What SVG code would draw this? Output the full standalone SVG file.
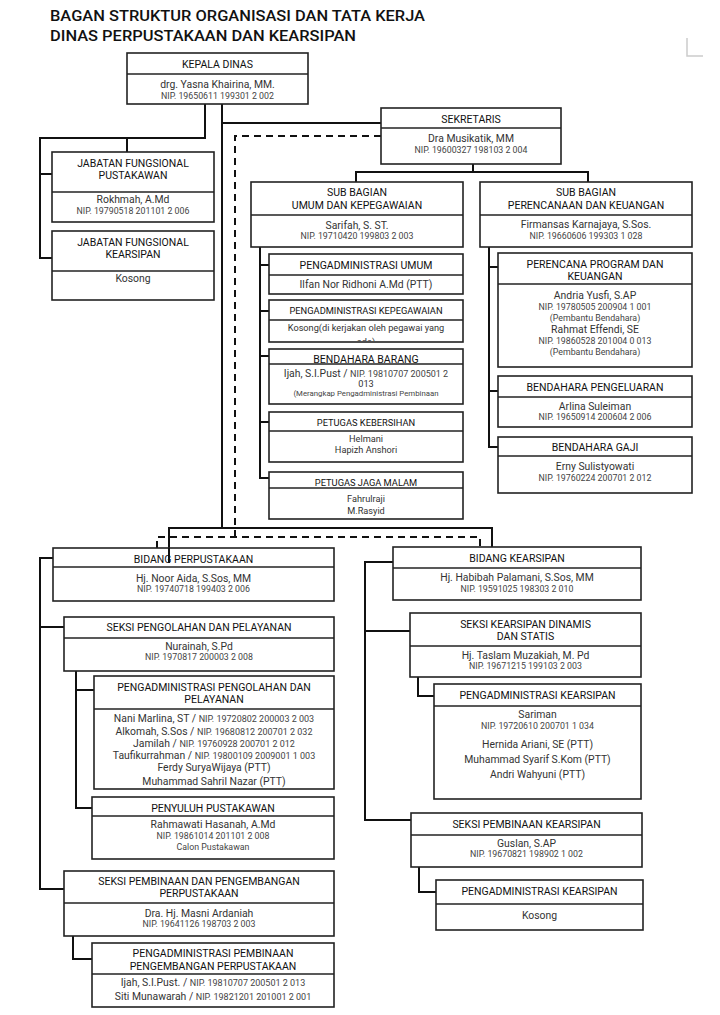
<svg xmlns="http://www.w3.org/2000/svg" width="720" height="1015" viewBox="0 0 720 1015">
<style>
text{font-family:Roboto,"Liberation Sans",sans-serif;text-anchor:middle}
.t{font-size:10.5px;fill:#111}
.ts{font-size:9.3px;fill:#111}
.n{font-size:10.4px;fill:#333}
.ns{font-size:9.2px;fill:#333}
.p{font-size:8.8px;fill:#444}
.s{font-size:7.8px;fill:#444}
.b{fill:#fff;stroke:#222;stroke-width:1.6}
.dv{stroke:#222;stroke-width:1.3}
.c{fill:none;stroke:#111;stroke-width:2}
.d{fill:none;stroke:#111;stroke-width:2;stroke-dasharray:7 5}
.ttl{font-family:Roboto,"Liberation Sans",sans-serif;font-size:15.5px;font-weight:500;fill:#111;text-anchor:start}
</style>
<defs>
<clipPath id="clipKep"><rect x="269" y="320" width="194" height="21"/></clipPath>
</defs>
<rect width="720" height="1015" fill="#fff"/>
<text class="ttl" x="50" y="21" textLength="375" lengthAdjust="spacingAndGlyphs">BAGAN STRUKTUR ORGANISASI DAN TATA KERJA</text>
<text class="ttl" x="50" y="41" textLength="306" lengthAdjust="spacingAndGlyphs">DINAS PERPUSTAKAAN DAN KEARSIPAN</text>
<path d="M687,38 V56 H703" fill="none" stroke="#ccc" stroke-width="1.5"/>

<g id="connectors">
<path class="c" d="M205,104 V138 H40 V258 H52"/>
<path class="c" d="M40,174 H52"/>
<path class="c" d="M127,138 V152"/>
<path class="c" d="M222,104 V528"/>
<path class="c" d="M222,123 H381"/>
<path class="c" d="M473,164 V172"/>
<path class="c" d="M356,182 V172 H588 V182"/>
<path class="c" d="M260,247 V478 H269"/>
<path class="c" d="M260,265 H269 M260,311 H269 M260,356 H269 M260,422 H269"/>
<path class="c" d="M489,247 V447 H498 M489,267 H498 M489,391 H498"/>
<path class="c" d="M169,563 V528 H492 V547"/>
<path class="c" d="M53,558 H40 V889 H64 M40,627 H64"/>
<path class="c" d="M76,671 V808 H92 M76,690 H94"/>
<path class="c" d="M73,936 V959 H92"/>
<path class="c" d="M393,562 H365 V820 H411 M365,631 H410"/>
<path class="c" d="M418,677 V696 H434"/>
<path class="c" d="M419,867 V892 H436"/>
<path class="d" d="M381,136 H235 V537"/>
<path class="d" d="M157,548 V537 H480 V547"/>
</g>

<g id="kepala-dinas">
<rect class="b" x="127" y="53" width="181" height="51"/>
<line class="dv" x1="127" y1="74" x2="308" y2="74"/>
<text class="t" x="217.5" y="67.5">KEPALA DINAS</text>
<text class="n" x="217.5" y="87.5">drg. Yasna Khairina, MM.</text>
<text class="p" x="217.5" y="99">NIP. 19650611 199301 2 002</text>
</g>

<g id="sekretaris">
<rect class="b" x="381" y="108" width="180" height="56"/>
<line class="dv" x1="381" y1="128" x2="561" y2="128"/>
<text class="t" x="471" y="122.5">SEKRETARIS</text>
<text class="n" x="471" y="141.5">Dra Musikatik, MM</text>
<text class="p" x="471" y="153">NIP. 19600327 198103 2 004</text>
</g>

<g id="jf-pustakawan">
<rect class="b" x="52" y="152" width="162" height="70"/>
<line class="dv" x1="52" y1="192" x2="214" y2="192"/>
<text class="t" x="133" y="166.5">JABATAN FUNGSIONAL</text>
<text class="t" x="133" y="178.5">PUSTAKAWAN</text>
<text class="n" x="133" y="202.5">Rokhmah, A.Md</text>
<text class="p" x="133" y="214">NIP. 19790518 201101 2 006</text>
</g>

<g id="jf-kearsipan">
<rect class="b" x="52" y="231" width="162" height="69"/>
<line class="dv" x1="52" y1="271" x2="214" y2="271"/>
<text class="t" x="133" y="245.5">JABATAN FUNGSIONAL</text>
<text class="t" x="133" y="257.5">KEARSIPAN</text>
<text class="n" x="133" y="281.5">Kosong</text>
</g>

<g id="subbag-umum">
<rect class="b" x="251" y="182" width="212" height="65"/>
<line class="dv" x1="251" y1="215" x2="463" y2="215"/>
<text class="t" x="357" y="195.5">SUB BAGIAN</text>
<text class="t" x="357" y="208.5">UMUM DAN KEPEGAWAIAN</text>
<text class="n" x="357" y="228.5">Sarifah, S. ST.</text>
<text class="p" x="357" y="239">NIP. 19710420 199803 2 003</text>
</g>

<g id="peng-umum">
<rect class="b" x="269" y="254" width="194" height="40"/>
<line class="dv" x1="269" y1="275" x2="463" y2="275"/>
<text class="t" x="366" y="268.5">PENGADMINISTRASI UMUM</text>
<text class="n" x="366" y="287.5">Ilfan Nor Ridhoni A.Md (PTT)</text>
</g>

<g id="peng-kepegawaian">
<rect class="b" x="269" y="300" width="194" height="42"/>
<line class="dv" x1="269" y1="320" x2="463" y2="320"/>
<text class="ts" x="366" y="314">PENGADMINISTRASI KEPEGAWAIAN</text>
<g clip-path="url(#clipKep)">
<text class="ns" x="366" y="331">Kosong(di kerjakan oleh pegawai yang</text>
<text class="ns" x="366" y="345">ada)</text>
</g>
</g>

<g id="bendahara-barang">
<rect class="b" x="269" y="349" width="194" height="55"/>
<text class="t" x="366" y="363">BENDAHARA BARANG</text>
<line class="dv" x1="269" y1="364" x2="463" y2="364"/>
<text class="n" x="366" y="376.5">Ijah, S.I.Pust / <tspan class="p" style="font-size:9px">NIP. 19810707 200501 2</tspan></text>
<text class="ns" x="366" y="386.5">013</text>
<text class="s" x="366" y="395.5">(Merangkap Pengadministrasi Pembinaan</text>
</g>

<g id="petugas-kebersihan">
<rect class="b" x="269" y="412" width="194" height="50"/>
<line class="dv" x1="269" y1="431" x2="463" y2="431"/>
<text class="ts" x="366" y="425.5">PETUGAS KEBERSIHAN</text>
<text class="ns" x="366" y="442">Helmani</text>
<text class="ns" x="366" y="453">Hapizh Anshori</text>
</g>

<g id="petugas-jaga-malam">
<rect class="b" x="269" y="472" width="194" height="47"/>
<line class="dv" x1="269" y1="488" x2="463" y2="488"/>
<text class="ts" x="366" y="485.5">PETUGAS JAGA MALAM</text>
<text class="ns" x="366" y="502">Fahrulraji</text>
<text class="ns" x="366" y="514">M.Rasyid</text>
</g>

<g id="subbag-perencanaan">
<rect class="b" x="480" y="182" width="212" height="65"/>
<line class="dv" x1="480" y1="215" x2="692" y2="215"/>
<text class="t" x="586" y="195.5">SUB BAGIAN</text>
<text class="t" x="586" y="208.5">PERENCANAAN DAN KEUANGAN</text>
<text class="n" x="586" y="227.5">Firmansas Karnajaya, S.Sos.</text>
<text class="p" x="586" y="239">NIP. 19660606 199303 1 028</text>
</g>

<g id="perencana-program">
<rect class="b" x="498" y="253" width="194" height="114"/>
<line class="dv" x1="498" y1="284" x2="692" y2="284"/>
<text class="t" x="595" y="267.5">PERENCANA PROGRAM DAN</text>
<text class="t" x="595" y="279.5">KEUANGAN</text>
<text class="n" x="595" y="298.5">Andria Yusfi, S.AP</text>
<text class="p" x="595" y="310">NIP. 19780505 200904 1 001</text>
<text class="p" x="595" y="321">(Pembantu Bendahara)</text>
<text class="n" x="595" y="332.5">Rahmat Effendi, SE</text>
<text class="p" x="595" y="344">NIP. 19860528 201004 0 013</text>
<text class="p" x="595" y="355">(Pembantu Bendahara)</text>
</g>

<g id="bendahara-pengeluaran">
<rect class="b" x="498" y="376" width="194" height="51"/>
<line class="dv" x1="498" y1="397" x2="692" y2="397"/>
<text class="t" x="595" y="390.5">BENDAHARA PENGELUARAN</text>
<text class="n" x="595" y="409.5">Arlina Suleiman</text>
<text class="p" x="595" y="420">NIP. 19650914 200604 2 006</text>
</g>

<g id="bendahara-gaji">
<rect class="b" x="498" y="437" width="194" height="56"/>
<line class="dv" x1="498" y1="456" x2="692" y2="456"/>
<text class="t" x="595" y="450.5">BENDAHARA GAJI</text>
<text class="n" x="595" y="469.5">Erny Sulistyowati</text>
<text class="p" x="595" y="481">NIP. 19760224 200701 2 012</text>
</g>

<g id="bidang-perpustakaan">
<rect class="b" x="53" y="548" width="281" height="53"/>
<line class="dv" x1="53" y1="567" x2="334" y2="567"/>
<text class="t" x="193.5" y="562.5">BIDANG PERPUSTAKAAN</text>
<line x1="169" y1="548" x2="169" y2="563" stroke="#111" stroke-width="2"/>
<text class="n" x="193.5" y="581.5">Hj. Noor Aida, S.Sos, MM</text>
<text class="p" x="193.5" y="592">NIP. 19740718 199403 2 006</text>
</g>

<g id="seksi-pengolahan">
<rect class="b" x="64" y="617" width="270" height="54"/>
<line class="dv" x1="64" y1="638" x2="334" y2="638"/>
<text class="t" x="199" y="630.5">SEKSI PENGOLAHAN DAN PELAYANAN</text>
<text class="n" x="199" y="649.5">Nurainah, S.Pd</text>
<text class="p" x="199" y="660">NIP. 1970817 200003 2 008</text>
</g>

<g id="peng-pengolahan">
<rect class="b" x="94" y="676" width="240" height="113"/>
<line class="dv" x1="94" y1="709" x2="334" y2="709"/>
<text class="t" x="214" y="690.5">PENGADMINISTRASI PENGOLAHAN DAN</text>
<text class="t" x="214" y="702.5">PELAYANAN</text>
<text class="n" x="214" y="721.5">Nani Marlina, ST / <tspan class="p" style="font-size:9px">NIP. 19720802 200003 2 003</tspan></text>
<text class="n" x="214" y="734.5">Alkomah, S.Sos / <tspan class="p" style="font-size:9px">NIP. 19680812 200701 2 032</tspan></text>
<text class="n" x="214" y="746.5">Jamilah / <tspan class="p" style="font-size:9px">NIP. 19760928 200701 2 012</tspan></text>
<text class="n" x="214" y="758.5">Taufikurrahman / <tspan class="p" style="font-size:9px">NIP. 19800109 2009001 1 003</tspan></text>
<text class="n" x="214" y="770.5">Ferdy SuryaWijaya (PTT)</text>
<text class="n" x="214" y="784.5">Muhammad Sahril Nazar (PTT)</text>
</g>

<g id="penyuluh">
<rect class="b" x="92" y="797" width="242" height="62"/>
<line class="dv" x1="92" y1="816" x2="334" y2="816"/>
<text class="t" x="213" y="811.5">PENYULUH PUSTAKAWAN</text>
<text class="n" x="213" y="827.5">Rahmawati Hasanah, A.Md</text>
<text class="p" x="213" y="839">NIP. 19861014 201101 2 008</text>
<text class="p" x="213" y="850">Calon Pustakawan</text>
</g>

<g id="seksi-pembinaan-perpus">
<rect class="b" x="64" y="871" width="270" height="65"/>
<line class="dv" x1="64" y1="903" x2="334" y2="903"/>
<text class="t" x="199" y="884.5">SEKSI PEMBINAAN DAN PENGEMBANGAN</text>
<text class="t" x="199" y="896.5">PERPUSTAKAAN</text>
<text class="n" x="199" y="916.5">Dra. Hj. Masni Ardaniah</text>
<text class="p" x="199" y="927">NIP. 19641126 198703 2 003</text>
</g>

<g id="peng-pembinaan-perpus">
<rect class="b" x="92" y="943" width="242" height="64"/>
<line class="dv" x1="92" y1="974" x2="334" y2="974"/>
<text class="t" x="213" y="956.5">PENGADMINISTRASI PEMBINAAN</text>
<text class="t" x="213" y="969.5">PENGEMBANGAN PERPUSTAKAAN</text>
<text class="n" x="213" y="985.5">Ijah, S.I.Pust. / <tspan class="p" style="font-size:9px">NIP. 19810707 200501 2 013</tspan></text>
<text class="n" x="213" y="999.5">Siti Munawarah / <tspan class="p" style="font-size:9px">NIP. 19821201 201001 2 001</tspan></text>
</g>

<g id="bidang-kearsipan">
<rect class="b" x="393" y="547" width="248" height="53"/>
<line class="dv" x1="393" y1="568" x2="641" y2="568"/>
<text class="t" x="517" y="561.5">BIDANG KEARSIPAN</text>
<text class="n" x="517" y="580.5">Hj. Habibah Palamani, S.Sos, MM</text>
<text class="p" x="517" y="592">NIP. 19591025 198303 2 010</text>
</g>

<g id="seksi-kearsipan-dinamis">
<rect class="b" x="410" y="613" width="231" height="64"/>
<line class="dv" x1="410" y1="646" x2="641" y2="646"/>
<text class="t" x="525.5" y="627.5">SEKSI KEARSIPAN DINAMIS</text>
<text class="t" x="525.5" y="639.5">DAN STATIS</text>
<text class="n" x="525.5" y="658.5">Hj. Taslam Muzakiah, M. Pd</text>
<text class="p" x="525.5" y="669">NIP. 19671215 199103 2 003</text>
</g>

<g id="peng-kearsipan-1">
<rect class="b" x="434" y="684" width="207" height="115"/>
<line class="dv" x1="434" y1="706" x2="641" y2="706"/>
<text class="t" x="537.5" y="698.5">PENGADMINISTRASI KEARSIPAN</text>
<text class="n" x="537.5" y="717.5">Sariman</text>
<text class="p" x="537.5" y="729">NIP. 19720610 200701 1 034</text>
<text class="n" x="537.5" y="747.5">Hernida Ariani, SE (PTT)</text>
<text class="n" x="537.5" y="762.5">Muhammad Syarif S.Kom (PTT)</text>
<text class="n" x="537.5" y="777.5">Andri Wahyuni (PTT)</text>
</g>

<g id="seksi-pembinaan-kearsipan">
<rect class="b" x="411" y="813" width="231" height="54"/>
<line class="dv" x1="411" y1="835" x2="642" y2="835"/>
<text class="t" x="526.5" y="827.5">SEKSI PEMBINAAN KEARSIPAN</text>
<text class="n" x="526.5" y="846.5">Guslan, S.AP</text>
<text class="p" x="526.5" y="857">NIP. 19670821 198902 1 002</text>
</g>

<g id="peng-kearsipan-2">
<rect class="b" x="436" y="880" width="207" height="50"/>
<line class="dv" x1="436" y1="904" x2="643" y2="904"/>
<text class="t" x="539.5" y="894.5">PENGADMINISTRASI KEARSIPAN</text>
<text class="n" x="539.5" y="918.5">Kosong</text>
</g>
</svg>
